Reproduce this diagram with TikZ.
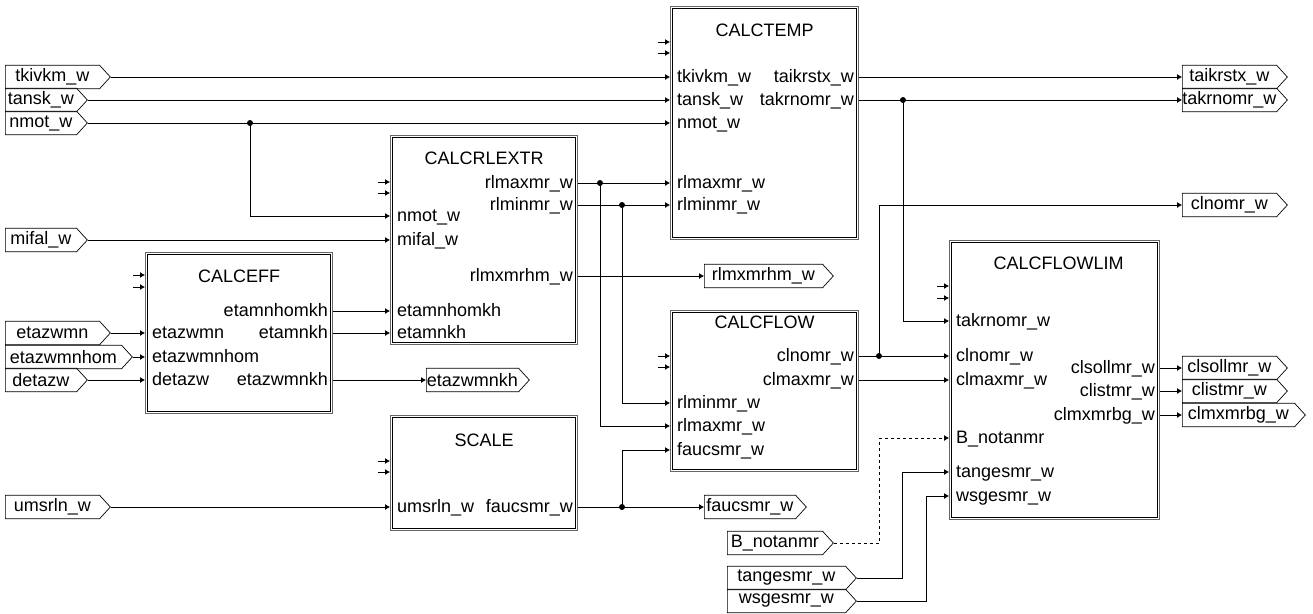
\documentclass[tikz,border=0pt]{standalone}
\usepackage{fontspec}
\setmainfont{Liberation Sans}
\usetikzlibrary{arrows.meta,shapes.symbols}

\begin{document}
\begin{tikzpicture}
[
	x=1pt, y=-1pt,
	font=\fontsize{18}{20}\selectfont,
	block/.style={draw=black!60, line width=1.3pt, anchor=north west, inner sep=0pt},
	inframe/.style={line width=0.9pt},
	title/.style={inner sep=0pt},
	portin/.style={anchor=west, inner sep=0pt, text height=13pt, text depth=3pt},
	portout/.style={anchor=east, inner sep=0pt, text height=13pt, text depth=3pt},
	sigtag/.style={signal, signal to=east, signal from=nowhere, signal pointer angle=95,
		draw, line width=0.7pt, anchor=west, inner sep=0pt, minimum height=23.5pt},
	wire/.style={line width=0.8pt, -{Latex[length=5pt,width=6pt]}},
	stub/.style={line width=1pt, -{Latex[length=5pt,width=6pt]}},
	junc/.style={circle, fill, inner sep=0pt, minimum size=6pt}
]
	\useasboundingbox (0,0) rectangle (1313,613);

	% blocks
	\node[block, minimum width=188, minimum height=233] (temp) at (670,6) {};
	\node[block, minimum width=187, minimum height=209] (rlex) at (390,135) {};
	\node[block, minimum width=187, minimum height=161] (eff) at (145,252) {};
	\node[block, minimum width=187, minimum height=115] (scale) at (390,415) {};
	\node[block, minimum width=188, minimum height=161] (flow) at (670,310) {};
	\node[block, minimum width=210, minimum height=279] (flim) at (949,240) {};

	\foreach \b in {temp,rlex,eff,scale,flow,flim}
		\draw[inframe] ([xshift=2.5pt,yshift=-2.5pt]\b.north west) rectangle ([xshift=-2.5pt,yshift=2.5pt]\b.south east);

	\foreach \b/\ya/\yb in {temp/42/53, rlex/182/193, eff/275/287, scale/461/472, flow/356/367, flim/286/298}
		\foreach \y in {\ya,\yb}
			\draw[stub] (\b.west |- 0,\y) ++(-12,0) -- ++(12,0);

	% titles
	\node[title] (temp-title) at (temp.north |- 0,30) {CALCTEMP};
	\node[title] (rlex-title) at (rlex.north |- 0,158) {CALCRLEXTR};
	\node[title] (eff-title) at (eff.north |- 0,276) {CALCEFF};
	\node[title] (scale-title) at (scale.north |- 0,440) {SCALE};
	\node[title] (flow-title) at (flow.north |- 0,322) {CALCFLOW};
	\node[title] (flim-title) at ([xshift=4pt]flim.north |- 0,263) {CALCFLOWLIM};

	% ports
	\foreach \y/\t/\n in {77/tkivkm\_w/tkivkm, 100/tansk\_w/tansk, 123/nmot\_w/nmot, 183/rlmaxmr\_w/rlmaxmr, 205/rlminmr\_w/rlminmr}
		\node[portin] (temp-\n) at (677,\y) {\t};
	\foreach \y/\t/\n in {77/taikrstx\_w/taikrstx, 100/takrnomr\_w/takrnomr}
		\node[portout] (temp-\n) at (854,\y) {\t};

	\foreach \y/\t/\n in {216/nmot\_w/nmot, 240/mifal\_w/mifal, 311/etamnhomkh/etamnhomkh, 333/etamnkh/etamnkh}
		\node[portin] (rlex-\n) at (397,\y) {\t};
	\foreach \y/\t/\n in {183/rlmaxmr\_w/rlmaxmr, 205/rlminmr\_w/rlminmr, 276/rlmxmrhm\_w/rlmxmrhm}
		\node[portout] (rlex-\n) at (573,\y) {\t};

	\foreach \y/\t/\n in {333/etazwmn/etazwmn, 357/etazwmnhom/etazwmnhom, 380/detazw/detazw}
		\node[portin] (eff-\n) at (152,\y) {\t};
	\foreach \y/\t/\n in {311/etamnhomkh/etamnhomkh, 333/etamnkh/etamnkh, 380/etazwmnkh/etazwmnkh}
		\node[portout] (eff-\n) at (328,\y) {\t};

	\node[portin] (scale-umsrln) at (397,507) {umsrln\_w};
	\node[portout] (scale-faucsmr) at (573,507) {faucsmr\_w};

	\foreach \y/\t/\n in {403/rlminmr\_w/rlminmr, 426/rlmaxmr\_w/rlmaxmr, 450/faucsmr\_w/faucsmr}
		\node[portin] (flow-\n) at (677,\y) {\t};
	\foreach \y/\t/\n in {356/clnomr\_w/clnomr, 380/clmaxmr\_w/clmaxmr}
		\node[portout] (flow-\n) at (854,\y) {\t};

	\foreach \y/\t/\n in {321/takrnomr\_w/takrnomr, 356/clnomr\_w/clnomr, 380/clmaxmr\_w/clmaxmr, 438/B\_notanmr/bnotanmr, 472/tangesmr\_w/tangesmr, 496/wsgesmr\_w/wsgesmr}
		\node[portin] (flim-\n) at (956,\y) {\t};
	\foreach \y/\t/\n in {368/clsollmr\_w/clsollmr, 391/clistmr\_w/clistmr, 415/clmxmrbg\_w/clmxmrbg}
		\node[portout] (flim-\n) at (1155,\y) {\t};

	% signal tags
	\node[sigtag, minimum width=105] (tkivkm) at (5,77) {tkivkm\_w};
	\node[sigtag, minimum width=82] (tansk) at (5,100) {tansk\_w};
	\node[sigtag, minimum width=82] (nmot) at (5,123) {nmot\_w};
	\node[sigtag, minimum width=82] (mifal) at (5,240) {mifal\_w};
	\node[sigtag, minimum width=105] (etazwmn) at (5,333) {etazwmn};
	\node[sigtag, minimum width=127] (etazwmnhom) at (5,357) {etazwmnhom};
	\node[sigtag, minimum width=82] (detazw) at (5,380) {detazw};
	\node[sigtag, minimum width=105] (umsrln) at (5,507) {umsrln\_w};

	\node[sigtag, minimum width=103] (etazwmnkh) at (426,380) {etazwmnkh};
	\node[sigtag, minimum width=129] (rlmxmrhm) at (704,276) {rlmxmrhm\_w};
	\node[sigtag, minimum width=102] (faucsmr) at (704,507) {faucsmr\_w};

	\node[sigtag, minimum width=106] (bnotanmr) at (727,543) {B\_notanmr};
	\node[sigtag, minimum width=129] (tangesmr) at (727,578) {tangesmr\_w};
	\node[sigtag, minimum width=129] (wsgesmr) at (727,601) {wsgesmr\_w};

	\node[sigtag, minimum width=105] (taikrstx) at (1182,77) {taikrstx\_w};
	\node[sigtag, minimum width=105] (takrnomr) at (1182,100) {takrnomr\_w};
	\node[sigtag, minimum width=105] (clnomr) at (1182,205) {clnomr\_w};
	\node[sigtag, minimum width=105] (clsollmr) at (1182,368) {clsollmr\_w};
	\node[sigtag, minimum width=105] (clistmr) at (1182,391) {clistmr\_w};
	\node[sigtag, minimum width=123] (clmxmrbg) at (1182,415) {clmxmrbg\_w};

	% junctions
	\node[junc] (jnmot) at (250,123) {};
	\node[junc] (jmax) at (600,183) {};
	\node[junc] (jmin) at (622,205) {};
	\node[junc] (jfauc) at (622,507) {};
	\node[junc] (jtak) at (903,100) {};
	\node[junc] (jcl) at (879,356) {};

	% CALCTEMP in
	\draw[wire] (tkivkm.east) -- (temp.west |- temp-tkivkm);
	\draw[wire] (tansk.east) -- (temp.west |- temp-tansk);
	\draw[wire] (nmot.east) -- (temp.west |- temp-nmot);
	\draw[wire] (jnmot.center) |- (rlex.west |- rlex-nmot);

	% CALCRLEXTR in
	\draw[wire] (mifal.east) -- (rlex.west |- rlex-mifal);
	\draw[wire] (eff.east |- eff-etamnhomkh) -- (rlex.west |- rlex-etamnhomkh);
	\draw[wire] (eff.east |- eff-etamnkh) -- (rlex.west |- rlex-etamnkh);

	% CALCEFF
	\draw[wire] (etazwmn.east) -- (eff.west |- eff-etazwmn);
	\draw[wire] (etazwmnhom.east) -- (eff.west |- eff-etazwmnhom);
	\draw[wire] (detazw.east) -- (eff.west |- eff-detazw);
	\draw[wire] (eff.east |- eff-etazwmnkh) -- (etazwmnkh.west);

	% CALCRLEXTR out
	\draw[wire] (rlex.east |- rlex-rlmaxmr) -- (temp.west |- temp-rlmaxmr);
	\draw[wire] (jmax.center) |- (flow.west |- flow-rlmaxmr);
	\draw[wire] (rlex.east |- rlex-rlminmr) -- (temp.west |- temp-rlminmr);
	\draw[wire] (jmin.center) |- (flow.west |- flow-rlminmr);
	\draw[wire] (rlex.east |- rlex-rlmxmrhm) -- (rlmxmrhm.west);

	% SCALE
	\draw[wire] (umsrln.east) -- (scale.west |- scale-umsrln);
	\draw[wire] (scale.east |- scale-faucsmr) -- (faucsmr.west);
	\draw[wire] (jfauc.center) |- (flow.west |- flow-faucsmr);

	% CALCTEMP out
	\draw[wire] (temp.east |- temp-taikrstx) -- (taikrstx.west);
	\draw[wire] (temp.east |- temp-takrnomr) -- (takrnomr.west);
	\draw[wire] (jtak.center) |- (flim.west |- flim-takrnomr);

	% CALCFLOW out
	\draw[wire] (flow.east |- flow-clnomr) -- (flim.west |- flim-clnomr);
	\draw[wire] (jcl.center) |- (clnomr.west);
	\draw[wire] (flow.east |- flow-clmaxmr) -- (flim.west |- flim-clmaxmr);

	% CALCFLOWLIM
	\draw[wire, dash pattern=on 3pt off 3pt] (bnotanmr.east) -- ++(46,0) |- (flim.west |- flim-bnotanmr);
	\draw[wire] (tangesmr.east) -- ++(46,0) |- (flim.west |- flim-tangesmr);
	\draw[wire] (wsgesmr.east) -- ++(70,0) |- (flim.west |- flim-wsgesmr);
	\draw[wire] (flim.east |- flim-clsollmr) -- (clsollmr.west);
	\draw[wire] (flim.east |- flim-clistmr) -- (clistmr.west);
	\draw[wire] (flim.east |- flim-clmxmrbg) -- (clmxmrbg.west);

\end{tikzpicture}
\end{document}
